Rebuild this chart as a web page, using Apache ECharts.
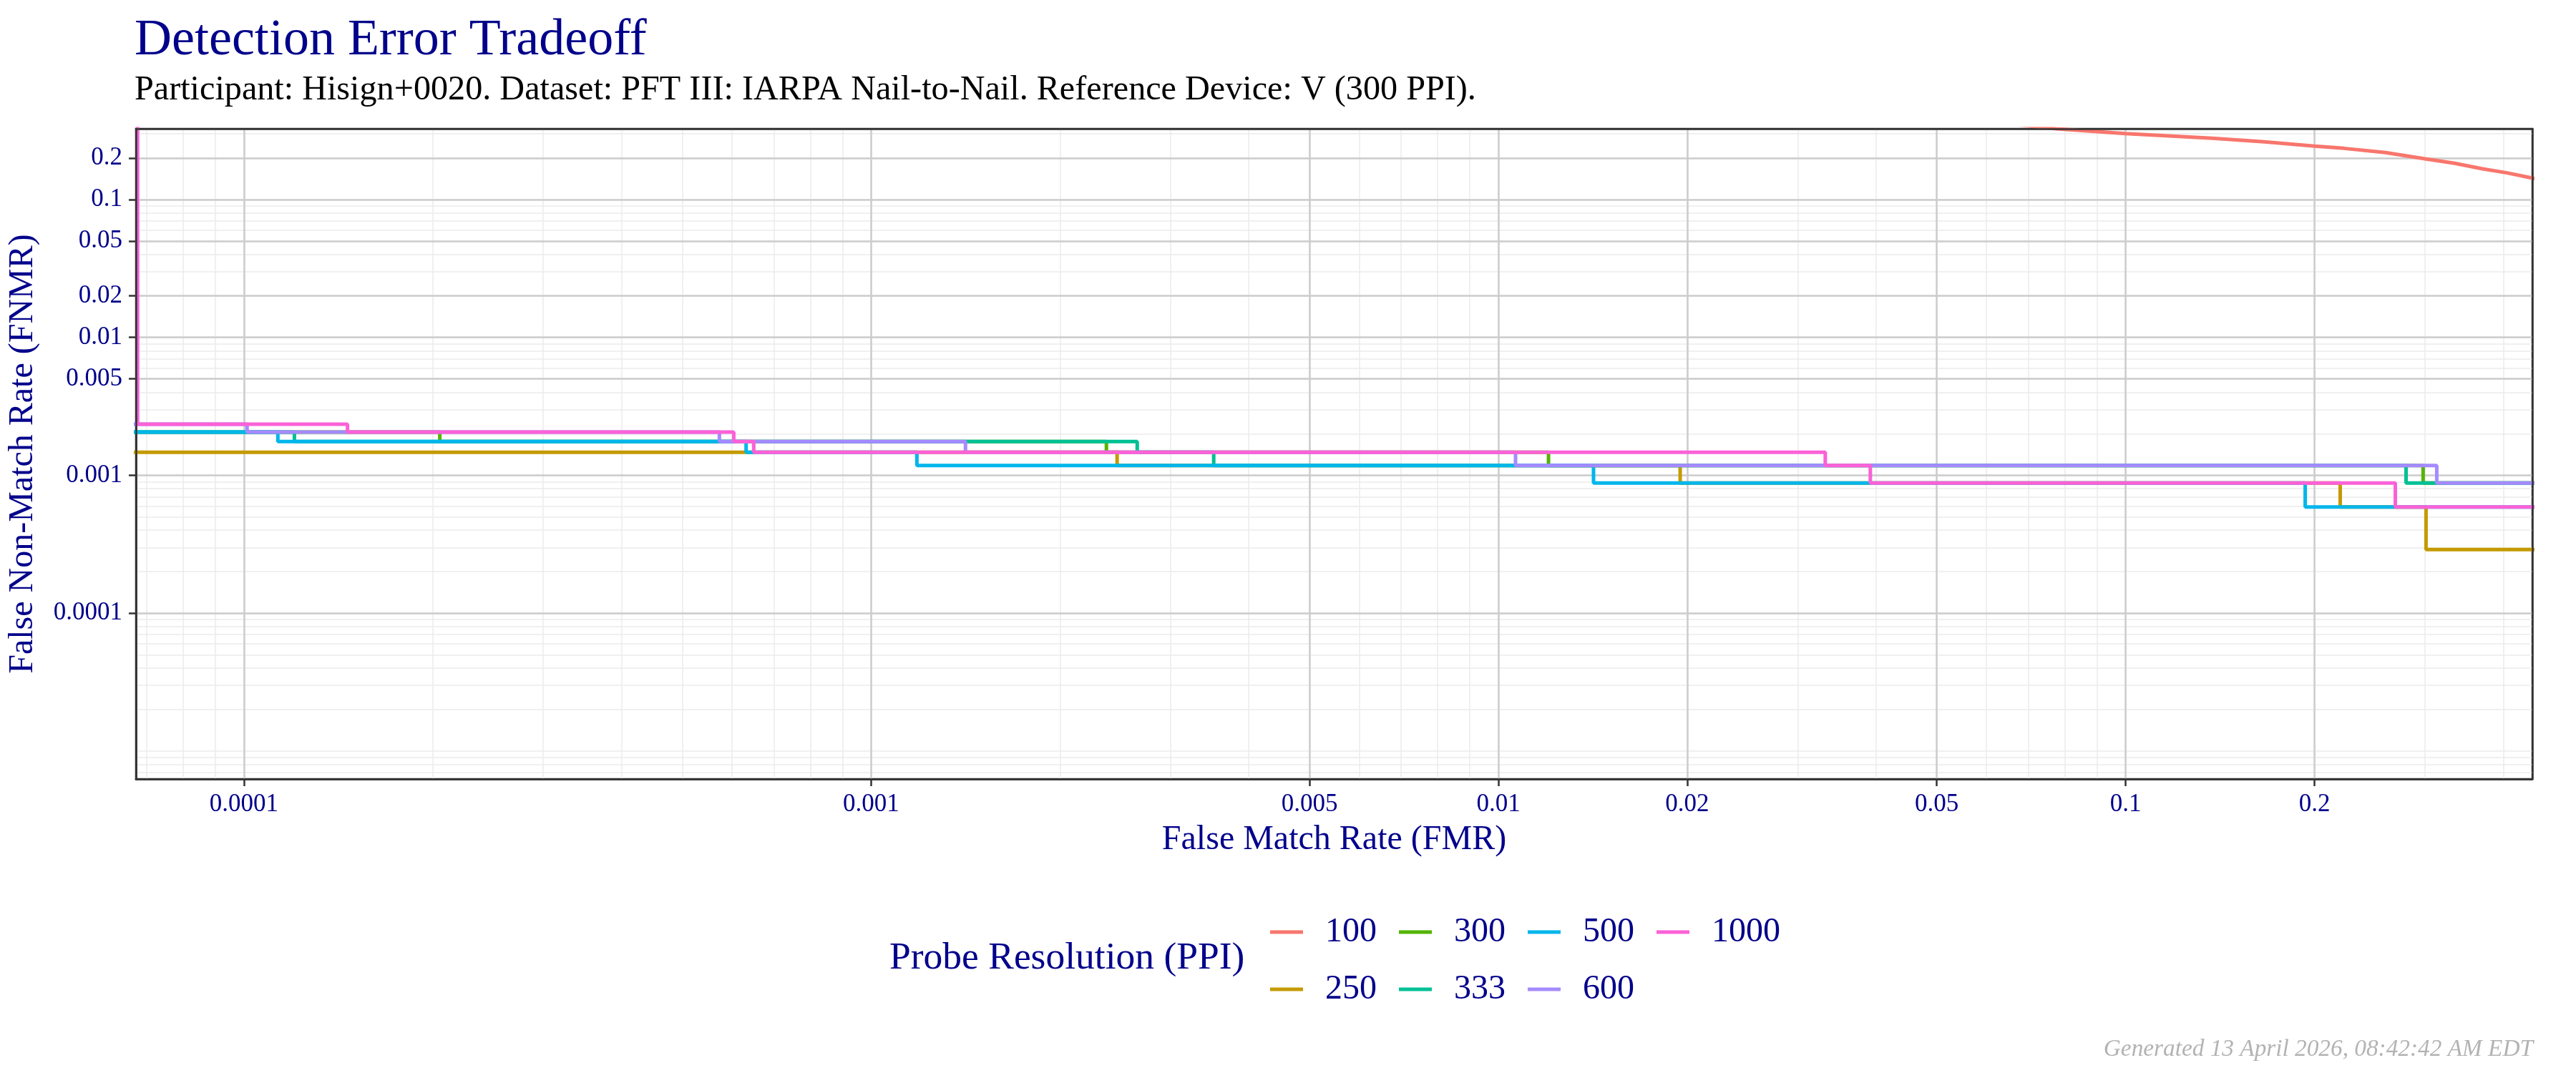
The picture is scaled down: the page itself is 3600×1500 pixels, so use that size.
<!DOCTYPE html>
<html>
<head>
<meta charset="utf-8">
<title>Detection Error Tradeoff</title>
<script src="https://cdn.jsdelivr.net/npm/echarts@6.0.0/dist/echarts.min.js"></script>
<style>
  html, body { margin: 0; padding: 0; background: #fff; }
  #det { width: 3600px; height: 1500px; }
</style>
</head>
<body>
<div id="det"></div>
<script>
// probe resolutions (legend order) and ggplot hue colours
const probeNames = ["100", "250", "300", "333", "500", "600", "1000"];
const probeColors = ["#F8766D", "#C49A00", "#53B400", "#00C094", "#00B6EB", "#A58AFF", "#FB61D7"];

// DET points per probe resolution: [FMR, FNMR]
const det100 = [[0.05, 0.4], [0.0775, 0.326], [0.1, 0.3007], [0.1374, 0.278], [0.1664, 0.2619], [0.2, 0.2438],
  [0.2228, 0.2351], [0.2594, 0.219], [0.2988, 0.1981], [0.3345, 0.1831], [0.3707, 0.167], [0.4053, 0.1561],
  [0.4455, 0.143], [0.5, 0.13]];
const det250 = [[5e-5, 0.00147], [0.002467, 0.00118], [0.01949, 0.00088], [0.2198, 0.00059], [0.3012, 0.00029], [1, 0.00029]];
const det300 = [[5e-5, 0.00206], [0.0002053, 0.00176], [0.002372, 0.00147], [0.01202, 0.00118], [0.298, 0.00088], [1, 0.00088]];
const det333 = [[5e-5, 0.00206], [0.0001204, 0.00176], [0.002656, 0.00147], [0.003517, 0.00118], [0.2799, 0.00088], [1, 0.00088]];
const det500 = [[5e-5, 0.00206], [0.0001133, 0.00176], [0.000632, 0.00147], [0.001183, 0.00118], [0.01418, 0.00088],
  [0.1933, 0.00059], [1, 0.00059]];
const det600 = [[5e-5, 0.00235], [0.0001012, 0.00206], [0.000573, 0.00176], [0.001414, 0.00147], [0.01065, 0.00118],
  [0.3133, 0.00088], [1, 0.00088]];
const det1000 = [[6.77e-5, 1], [6.77e-5, 0.00235], [0.0001463, 0.00206], [0.000604, 0.00176], [0.00065, 0.00147],
  [0.0332, 0.00118], [0.03917, 0.00088], [0.2691, 0.00059], [1, 0.00059]];
const detData = [det100, det250, det300, det333, det500, det600, det1000];

// axis ticks
const xTicks = [0.0001, 0.001, 0.005, 0.01, 0.02, 0.05, 0.1, 0.2];
const xTickLabels = ["0.0001", "0.001", "0.005", "0.01", "0.02", "0.05", "0.1", "0.2"];
const yTicks = [0.2, 0.1, 0.05, 0.02, 0.01, 0.005, 0.001, 0.0001];
const yTickLabels = ["0.2", "0.1", "0.05", "0.02", "0.01", "0.005", "0.001", "0.0001"];
const minorSteps = [1, 2, 3, 4, 5, 6, 7, 8, 9];
const decades = [-6, -5, -4, -3, -2, -1, 0];

// plot limits
const xLimits = [6.73e-5, 0.445];
const yLimits = [6.28e-6, 0.326];

const FONT = "'Liberation Serif', serif";
const BLUE = "#00008B";

const lg = (v) => Math.log10(v);
const minorLog = [];
decades.forEach((d) => minorSteps.forEach((k) => minorLog.push(lg(k * Math.pow(10, d)))));

function tickFormatter(ticks, labels) {
  return (v) => {
    let best = 0;
    ticks.forEach((t, i) => {
      if (Math.abs(lg(t) - v) < Math.abs(lg(ticks[best]) - v)) best = i;
    });
    return labels[best];
  };
}

const chart = echarts.init(document.getElementById("det"), null, { renderer: "canvas" });

const axisLineStyle = { color: "#333333", width: 2.5 };

// panel border drawn above the curves (like ggplot's panel.border)
function borderAxis(position, limits) {
  return {
    type: "value", min: lg(limits[0]), max: lg(limits[1]), position: position, z: 20,
    axisLine: { show: true, onZero: false, lineStyle: axisLineStyle },
    axisTick: { show: false }, axisLabel: { show: false }, splitLine: { show: false },
  };
}

const option = {
  animation: false,
  backgroundColor: "#ffffff",
  grid: {
    left: 188, top: 180, right: 61, bottom: 411,
    show: true, borderColor: "#333333", borderWidth: 2.5, backgroundColor: "transparent",
  },
  xAxis: [
    {
      type: "value", min: lg(xLimits[0]), max: lg(xLimits[1]), position: "bottom", z: 1,
      axisLine: { show: true, lineStyle: axisLineStyle },
      axisTick: { show: true, length: 10, lineStyle: axisLineStyle, customValues: xTicks.map(lg) },
      axisLabel: {
        customValues: xTicks.map(lg), formatter: tickFormatter(xTicks, xTickLabels),
        fontFamily: FONT, fontSize: 35, color: BLUE, margin: 18,
      },
      splitLine: { show: true, lineStyle: { color: "#cccccc", width: 2.5 } },
      name: "False Match Rate (FMR)", nameLocation: "middle", nameGap: 61,
      nameTextStyle: { fontFamily: FONT, fontSize: 48, color: BLUE },
    },
    {
      // minor grid lines
      type: "value", min: lg(xLimits[0]), max: lg(xLimits[1]), position: "bottom", z: 0,
      axisLine: { show: false }, axisLabel: { show: false },
      axisTick: { show: false, customValues: minorLog },
      splitLine: { show: true, lineStyle: { color: "#ebebeb", width: 1.5 } },
    },
    borderAxis("top", xLimits),
    borderAxis("bottom", xLimits),
  ],
  yAxis: [
    {
      type: "value", min: lg(yLimits[0]), max: lg(yLimits[1]), position: "left", z: 1,
      axisLine: { show: true, lineStyle: axisLineStyle },
      axisTick: { show: true, length: 10, lineStyle: axisLineStyle, customValues: yTicks.map(lg) },
      axisLabel: {
        customValues: yTicks.map(lg), formatter: tickFormatter(yTicks, yTickLabels),
        fontFamily: FONT, fontSize: 35, color: BLUE, margin: 19,
      },
      splitLine: { show: true, lineStyle: { color: "#cccccc", width: 2.5 } },
      name: "False Non-Match Rate (FNMR)", nameLocation: "middle", nameGap: 134,
      nameTextStyle: { fontFamily: FONT, fontSize: 48, color: BLUE },
    },
    {
      type: "value", min: lg(yLimits[0]), max: lg(yLimits[1]), position: "left", z: 0,
      axisLine: { show: false }, axisLabel: { show: false },
      axisTick: { show: false, customValues: minorLog },
      splitLine: { show: true, lineStyle: { color: "#ebebeb", width: 1.5 } },
    },
    borderAxis("left", yLimits),
    borderAxis("right", yLimits),
  ],
  legend: [
    {
      data: ["100", "300", "500", "1000"], left: 1770, top: 1274,
      icon: "rect", itemWidth: 46, itemHeight: 5, itemGap: 31, selectedMode: false,
      textStyle: { fontFamily: FONT, fontSize: 48, color: BLUE, padding: [0, 0, 0, 26] },
    },
    {
      data: ["250", "333", "600"], left: 1770, top: 1354,
      icon: "rect", itemWidth: 46, itemHeight: 5, itemGap: 31, selectedMode: false,
      textStyle: { fontFamily: FONT, fontSize: 48, color: BLUE, padding: [0, 0, 0, 26] },
    },
  ],
  graphic: [
    { type: "text", x: 188, y: 57, style: { text: "Detection Error Tradeoff", fill: BLUE, font: "72px " + FONT, verticalAlign: "middle" } },
    {
      type: "text", x: 188, y: 126,
      style: {
        text: "Participant: Hisign+0020. Dataset: PFT III: IARPA Nail-to-Nail. Reference Device: V (300 PPI).",
        fill: "#000000", font: "48.2px " + FONT, verticalAlign: "middle",
      },
    },
    { type: "text", x: 1243, y: 1340, style: { text: "Probe Resolution (PPI)", fill: BLUE, font: "53.5px " + FONT, verticalAlign: "middle" } },
    {
      type: "text", x: 3540, y: 1467,
      style: { text: "Generated 13 April 2026, 08:42:42 AM EDT", fill: "#b3b3b3", font: "italic 33.3px " + FONT, align: "right", verticalAlign: "middle" },
    },
  ],
  series: probeNames.map((name, i) => ({
    type: "line",
    name: name,
    data: detData[i].map(([fmr, fnmr]) => [lg(fmr), lg(fnmr)]),
    step: i === 0 ? false : "end",
    showSymbol: false,
    clip: true,
    color: probeColors[i],
    lineStyle: { width: 5, color: probeColors[i] },
    z: 2 + i,
  })),
};

chart.setOption(option);
</script>
</body>
</html>
